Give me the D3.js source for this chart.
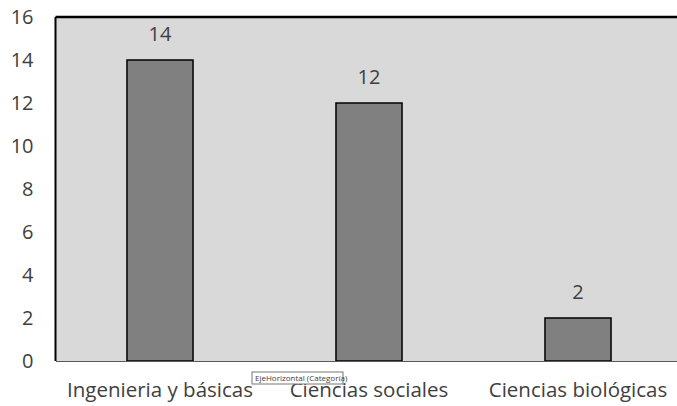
<!DOCTYPE html>
<html>
<head>
<meta charset="utf-8">
<script src="https://cdn.jsdelivr.net/npm/d3@7"></script>
<style>
  body { margin: 0; background: #fff; }
  svg { display: block; }
  text { font-family: "Open Sans", "Liberation Sans", sans-serif; fill: #404040; }
</style>
</head>
<body>
<div class="container"></div>
<script>
var categories = ['Ingenieria y básicas', 'Ciencias sociales', 'Ciencias biológicas'];
var values = [14, 12, 2];
var yTicks = [0, 2, 4, 6, 8, 10, 12, 14, 16];

var width = 677;
var height = 406;
var plotLeft = 55.5, plotTop = 17, plotRight = 682.5, plotBottom = 361;

var XScale = d3.scaleBand()
    .domain(categories)
    .range([plotLeft, plotRight])
    .paddingInner(0.684)
    .paddingOuter(0.342);

var YScale = d3.scaleLinear()
    .domain([0, 16])
    .range([plotBottom, plotTop]);

var svg = d3.select('.container').append('svg')
    .attr('width', width)
    .attr('height', height);

// plot area
svg.append('rect')
    .attr('x', plotLeft).attr('y', plotTop)
    .attr('width', plotRight - plotLeft).attr('height', plotBottom - plotTop)
    .attr('fill', '#d9d9d9');

svg.append('line')
    .attr('x1', plotLeft).attr('x2', plotRight)
    .attr('y1', plotTop).attr('y2', plotTop)
    .attr('stroke', '#000').attr('stroke-width', 2.5);
svg.append('line')
    .attr('x1', plotLeft).attr('x2', plotLeft)
    .attr('y1', plotTop).attr('y2', plotBottom)
    .attr('stroke', '#000').attr('stroke-width', 2);

// y axis labels
var yAxis = d3.axisLeft(YScale).tickValues(yTicks).tickSize(0).tickPadding(22);
var yg = svg.append('g')
    .attr('transform', 'translate(' + plotLeft + ',0)')
    .call(yAxis);
yg.select('.domain').remove();
yg.selectAll('text').style('font-size', '20px').attr('fill', '#404040');

// bars
svg.append('g').selectAll('rect')
    .data(values)
    .enter().append('rect')
    .attr('x', function(d, i) { return XScale(categories[i]); })
    .attr('y', function(d) { return YScale(d); })
    .attr('width', XScale.bandwidth())
    .attr('height', function(d) { return plotBottom - YScale(d); })
    .attr('fill', '#808080')
    .attr('stroke', '#000')
    .attr('stroke-width', 1.5);

// data labels
svg.append('g').selectAll('text')
    .data(values)
    .enter().append('text')
    .attr('x', function(d, i) { return XScale(categories[i]) + XScale.bandwidth() / 2; })
    .attr('y', function(d) { return YScale(d) - 19; })
    .attr('text-anchor', 'middle')
    .style('font-size', '20px')
    .text(function(d) { return d; });

// x axis
var xAxis = d3.axisBottom(XScale).tickSize(0).tickPadding(21);
var xg = svg.append('g')
    .attr('transform', 'translate(0,' + plotBottom + ')')
    .call(xAxis);
xg.select('.domain').attr('stroke', '#595959').attr('stroke-width', 1.2);
xg.selectAll('text').style('font-size', '20.5px').attr('fill', '#404040');

// tooltip
var tip = svg.append('g').attr('transform', 'translate(252,372)');
tip.append('rect')
    .attr('width', 91).attr('height', 12)
    .attr('fill', '#fff').attr('stroke', '#767676').attr('stroke-width', 1);
tip.append('text')
    .attr('x', 3).attr('y', 9)
    .style('font-size', '8px')
    .attr('fill', '#333')
    .text('EjeHorizontal (Categoría)');
</script>
</body>
</html>
